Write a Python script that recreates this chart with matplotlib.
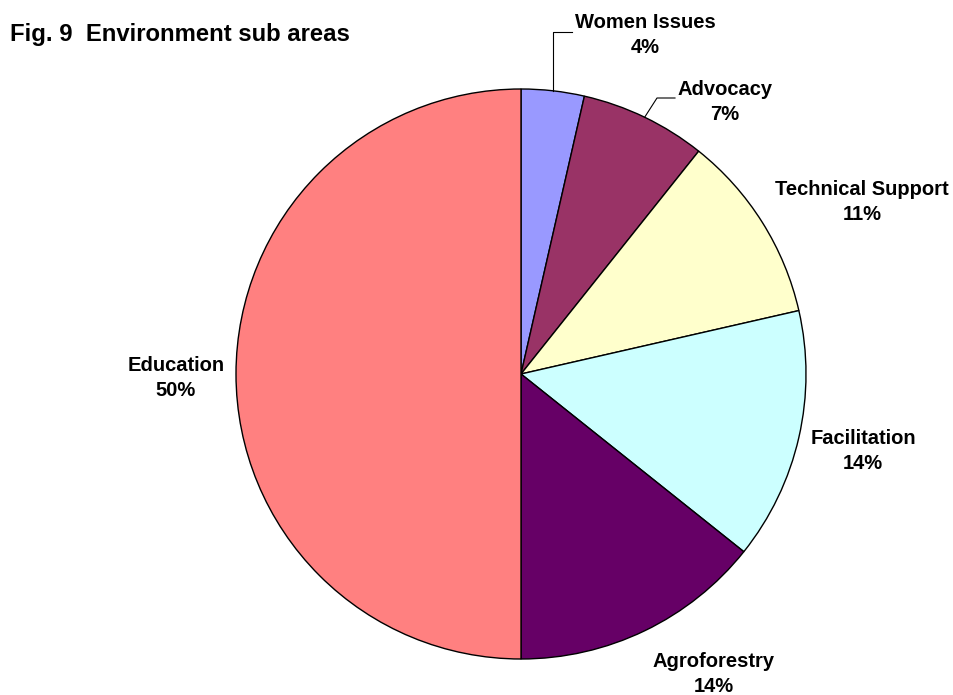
import matplotlib.pyplot as plt
import numpy as np

# Environment sub areas (number of projects per sub area)
labels = ['Women Issues', 'Advocacy', 'Technical Support', 'Facilitation',
          'Agroforestry', 'Education']
counts = [1, 2, 3, 4, 4, 14]
colors = ['#9999FF', '#993366', '#FFFFCC', '#CCFFFF', '#660066', '#FF8080']

W, H = 954, 695
fig = plt.figure(figsize=(W / 100, H / 100), dpi=100)
ax = fig.add_axes([0, 0, 1, 1])
ax.set_aspect('equal')
ax.axis('off')

plt.rcParams['font.family'] = ['Liberation Sans', 'DejaVu Sans']

cx, cy, r = 521, H - 374, 285
wedges, _ = ax.pie(counts, colors=colors, startangle=90, counterclock=False,
                   radius=r, center=(cx, cy),
                   wedgeprops=dict(edgecolor='black', linewidth=1.0))
ax.set_xlim(0, W)
ax.set_ylim(0, H)

total = sum(counts)
# label positions in pixels (x, y from top)
label_pos = [(645, 35), (725, 102), (862, 202), (863, 451), (714, 674), (176, 378)]
for lab, n, (px, py) in zip(labels, counts, label_pos):
    ax.text(px, H - py, f'{lab}\n{round(100 * n / total)}%', ha='center', va='center',
            fontsize=14.5, fontweight='bold', linespacing=1.45)

# leader lines for the two small slices
def edge_point(w):
    a = np.deg2rad((w.theta1 + w.theta2) / 2)
    return cx + r * np.cos(a), cy + r * np.sin(a)

x0, y0 = edge_point(wedges[0])
ax.plot([x0, x0, 572], [y0, H - 32, H - 32], color='black', linewidth=0.8)
x1, y1 = edge_point(wedges[1])
ax.plot([x1, 657, 675], [y1, H - 98, H - 98], color='black', linewidth=0.8)

ax.text(10, H - 35, 'Fig. 9  Environment sub areas', ha='left', va='center',
        fontsize=17.2, fontweight='bold')

fig.savefig('out.png', dpi=100)
